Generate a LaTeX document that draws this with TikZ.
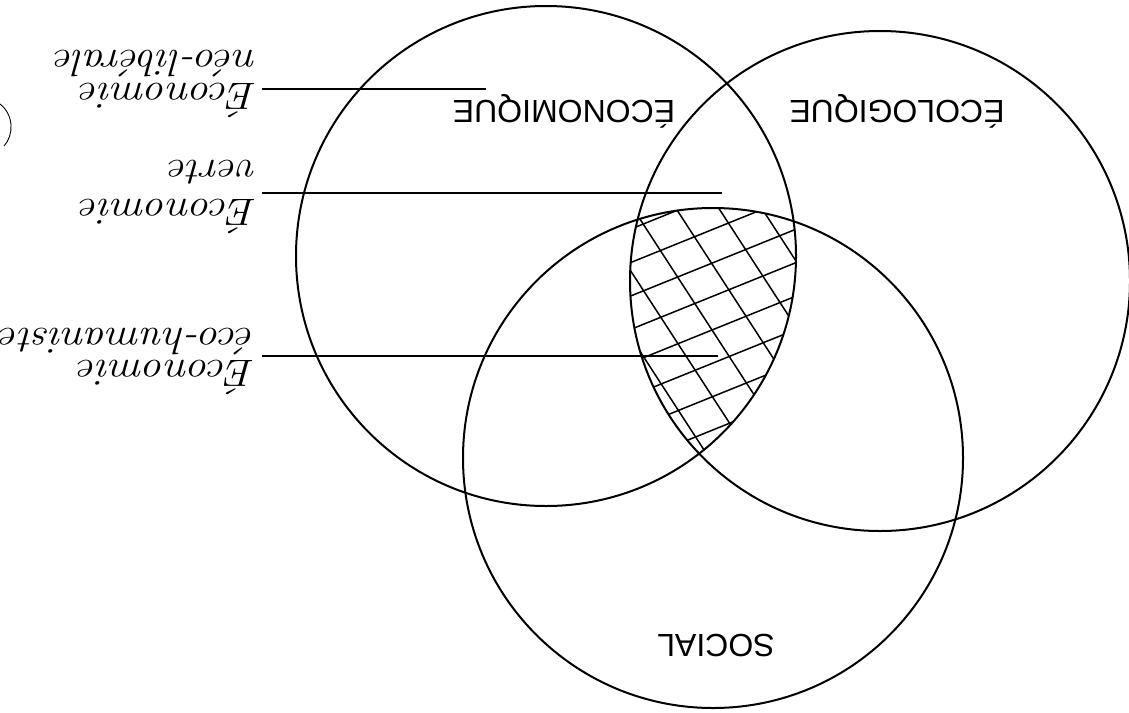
\documentclass[tikz,border=0pt]{standalone}
\usepackage{fontspec}
\newfontfamily\titlefont{Liberation Sans}
\begin{document}
\begin{tikzpicture}[x=1pt,y=-1pt,
  ring/.style={line width=2pt},
  hatchline/.style={line width=1.5pt},
  leader/.style={line width=1.2pt},
  thinarc/.style={line width=0.9pt},
  title/.style={font=\titlefont\fontsize{32}{36}\selectfont, rotate=180, anchor=base, inner sep=0pt},
  hand/.style={rotate=180, xscale=1.12, anchor=base west, inner sep=0pt, align=left}]
\fill[white] (0,0) rectangle (1129,712);
\useasboundingbox (0,0) rectangle (1129,712);
% circle centres
\coordinate (cE) at (546,256);
\coordinate (cG) at (880,281);
\coordinate (cS) at (713,458);
% hatching of the triple intersection
\begin{scope}
  \clip (cE) circle (250pt);
  \clip (cG) circle (250pt);
  \clip (cS) circle (250pt);
  \foreach \k in {-10,...,10}
    \draw[hatchline, shift={(712,330)}, rotate=22] (-300,\k*31) -- (300,\k*31);
  \foreach \k in {-10,...,10}
    \draw[hatchline, shift={(712,330)}, rotate=-57] (-300,\k*36) -- (300,\k*36);
\end{scope}
% circles
\draw[ring] (cE) circle (250pt);
\draw[ring] (cG) circle (250pt);
\draw[ring] (cS) circle (250pt);
% titles (upside down)
\node[title] (tE) at (564,100) {ÉCONOMIQUE};
\node[title] (tG) at (897,100) {ÉCOLOGIQUE};
\node[title] (tS) at (716,634) {SOCIAL};
% handwritten labels (upside down); anchor = baseline of the last line
\node[hand, font=\fontsize{38}{33}\selectfont\itshape] (l1) at (258,50) {Économie\\néo-libérale};
\node[hand, font=\fontsize{38}{39}\selectfont\itshape] (l2) at (258,160) {Économie\\verte};
\node[hand, font=\fontsize{38}{32}\selectfont\itshape] (l3) at (256,328) {Économie\\éco-humaniste};
% leader lines
\coordinate (p1s) at (262,89);  \coordinate (p1e) at (486,89);
\coordinate (p2s) at (262,193); \coordinate (p2e) at (722,193);
\coordinate (p3s) at (262,356); \coordinate (p3e) at (718,356);
\draw[leader] (p1s) -- (p1e);
\draw[leader] (p2s) -- (p2e);
\draw[leader] (p3s) -- (p3e);
% small arc at the left edge
\draw[thinarc] (0,104) .. controls (14,115) and (14,135) .. (4,146);
\end{tikzpicture}
\end{document}
